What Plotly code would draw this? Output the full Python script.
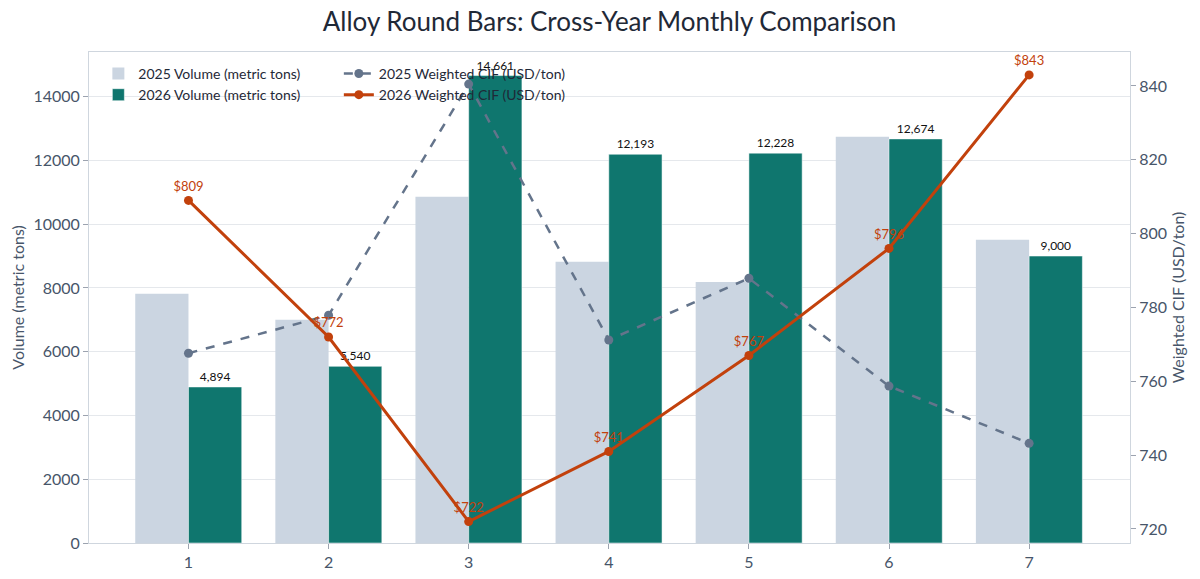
import plotly.graph_objects as go

months = [1, 2, 3, 4, 5, 6, 7]
vol_2025 = [7820, 7000, 10860, 8820, 8190, 12740, 9510]
vol_2026 = [4894, 5540, 14661, 12193, 12228, 12674, 9000]
cif_2025 = [767.6, 777.9, 840.5, 771.2, 787.9, 758.7, 743.2]
cif_2026 = [809, 772, 722, 741, 767, 796, 843]

FONT = "Century Gothic, Lato, sans-serif"
AXIS_TXT = "#475569"
GRID = "#e5e8ec"
LINE = "#cfd6de"

fig = go.Figure()

fig.add_trace(go.Bar(
    x=months, y=vol_2025, name="2025 Volume (metric tons)",
    marker=dict(color="#cbd5e1", line=dict(width=0)),
    legend="legend",
))
fig.add_trace(go.Bar(
    x=months, y=vol_2026, name="2026 Volume (metric tons)",
    marker=dict(color="#0f766e", line=dict(width=1, color="rgba(255,255,255,0.5)")),
    text=[f"{v:,}" for v in vol_2026], textposition="outside",
    textfont=dict(size=12, color="#111111"), cliponaxis=False,
    legend="legend",
))
fig.add_trace(go.Scatter(
    x=months, y=cif_2025, name="2025 Weighted CIF (USD/ton)", yaxis="y2",
    mode="lines+markers",
    line=dict(color="#64748b", width=2.5, dash="dash"),
    marker=dict(size=9, color="#64748b"),
    legend="legend2",
))
fig.add_trace(go.Scatter(
    x=months, y=cif_2026, name="2026 Weighted CIF (USD/ton)", yaxis="y2",
    mode="lines+markers+text",
    line=dict(color="#c2410c", width=3),
    marker=dict(size=9, color="#c2410c"),
    text=[f"${v}" for v in cif_2026], textposition="top center",
    textfont=dict(size=13, color="#c2410c"), cliponaxis=False,
    legend="legend2",
))

# page body has an 8px margin, so the figure sits 8px right/down in the window
fig.update_layout(
    width=1200, height=579,
    margin=dict(l=81, r=78, t=44, b=44),
    paper_bgcolor="white", plot_bgcolor="white",
    font=dict(family=FONT, color=AXIS_TXT),
    title=dict(text="Alloy Round Bars: Cross-Year Monthly Comparison",
               x=0.5, xanchor="center", xref="paper",
               y=0.992, yanchor="top", yref="container",
               font=dict(size=26, color="#1f2937")),
    barmode="group", bargap=0.24, bargroupgap=0,
    showlegend=True,
    legend=dict(x=0.009, y=0.988, xanchor="left", yanchor="top",
                bgcolor="rgba(255,255,255,0)", font=dict(size=14, color="#1f2937"),
                tracegroupgap=0),
    legend2=dict(x=0.24, y=0.988, xanchor="left", yanchor="top",
                 bgcolor="rgba(255,255,255,0)", font=dict(size=14, color="#1f2937"),
                 tracegroupgap=0),
    xaxis=dict(range=[0.29, 7.72], tickmode="array", tickvals=months,
               showgrid=False, showline=True, linecolor=LINE, linewidth=1,
               mirror=True, ticks="outside", ticklen=5, tickcolor="#9ca3af",
               tickfont=dict(size=16, color=AXIS_TXT), automargin=False),
    yaxis=dict(range=[0, 15400], dtick=2000, tickformat="d",
               title=dict(text="Volume (metric tons)", standoff=6,
                          font=dict(size=16, color=AXIS_TXT)),
               showgrid=True, gridcolor=GRID, zeroline=False,
               showline=True, linecolor=LINE, linewidth=1,
               ticks="outside", ticklen=5, tickcolor="#9ca3af",
               tickfont=dict(size=16, color=AXIS_TXT), automargin=False),
    yaxis2=dict(range=[716.2, 849.2], dtick=20, overlaying="y", side="right",
                title=dict(text="Weighted CIF (USD/ton)", standoff=6,
                           font=dict(size=16, color=AXIS_TXT)),
                showgrid=False, zeroline=False,
                showline=True, linecolor=LINE, linewidth=1,
                ticks="outside", ticklen=5, tickcolor="#9ca3af",
                tickfont=dict(size=16, color=AXIS_TXT), automargin=False),
)

fig.write_html("out.html")
